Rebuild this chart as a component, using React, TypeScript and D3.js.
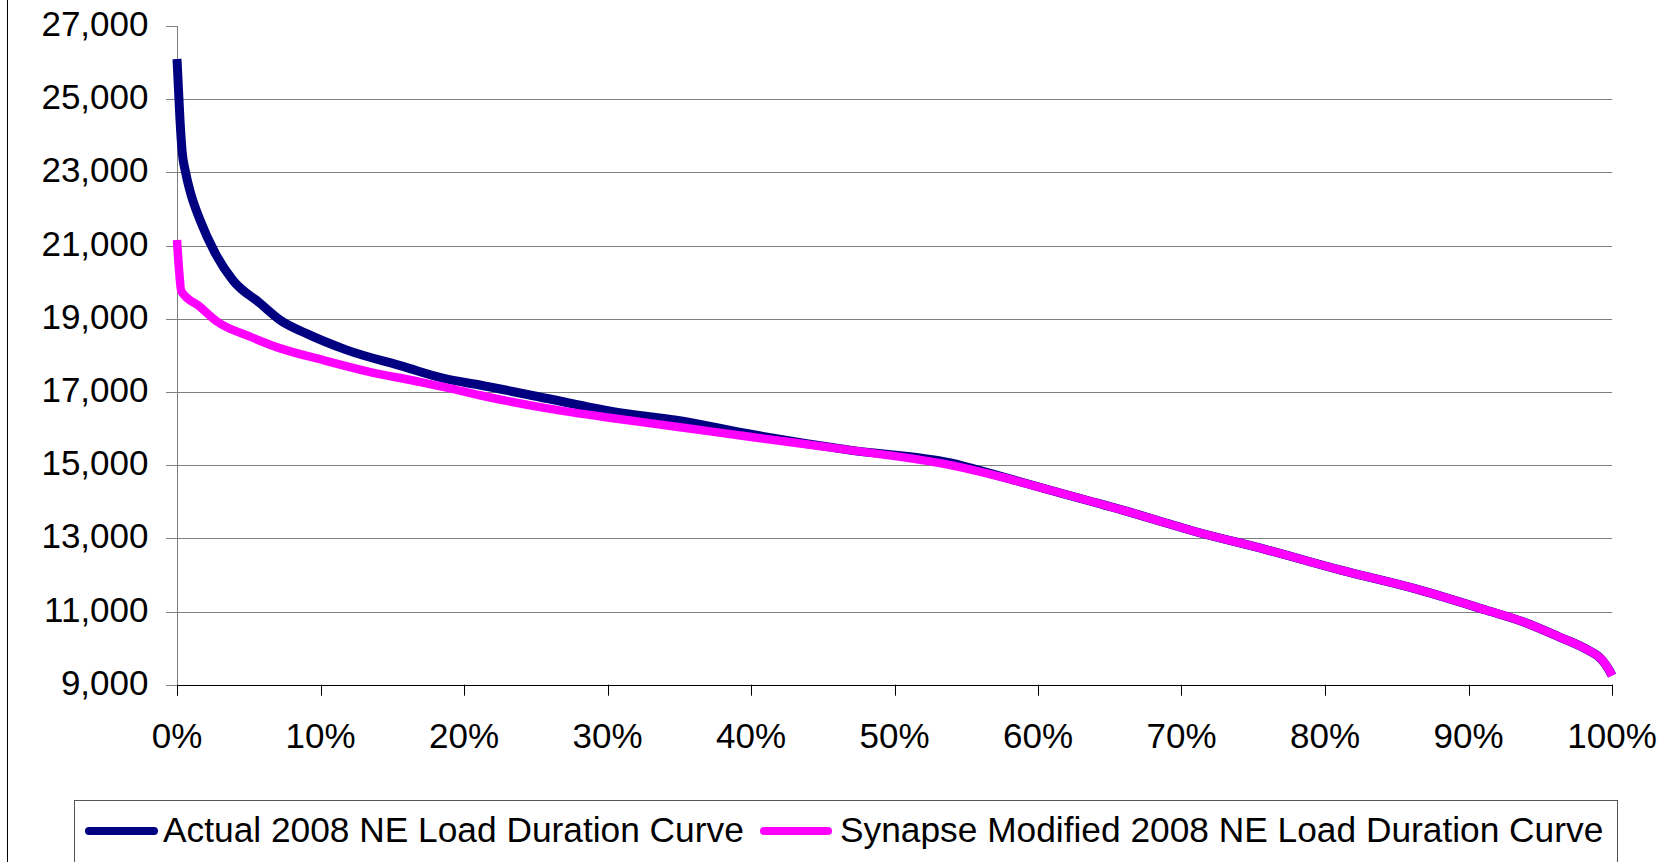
import React from 'react';
import * as d3 from 'd3';

// share of hours (%) and load (MW)
const actualPct = [0, 0.1, 0.2, 0.35, 0.6, 0.9, 1.6, 2.65, 3.9, 5.8, 7.2, 9.0, 11.8, 15.8, 18.6, 21.1, 25.8, 30.4, 34.8, 39.9, 46.9, 53.9, 56.8, 60.8, 65.9, 71.0, 76.0, 81.1, 86.2, 91.2, 93.8, 96.3, 98.3, 99.3, 99.8, 100];
const actualLoad = [26100, 25300, 24500, 23600, 23000, 22500, 21700, 20800, 20050, 19420, 18960, 18600, 18150, 17690, 17370, 17190, 16820, 16460, 16230, 15850, 15410, 15060, 14760, 14320, 13770, 13180, 12680, 12130, 11630, 11040, 10720, 10310, 9950, 9680, 9400, 9250];

const synapsePct = [0, 0.15, 0.3, 1.6, 2.8, 5.1, 7.2, 10.2, 13.4, 16.6, 18.8, 21.1, 25.8, 30.4, 34.8, 39.9, 46.9, 53.9, 57.4, 60.8, 65.9, 71.0, 76.0, 81.1, 86.2, 91.2, 93.8, 96.3, 98.3, 99.3, 99.8, 100];
const synapseLoad = [21150, 20300, 19750, 19330, 18920, 18510, 18190, 17870, 17550, 17300, 17120, 16910, 16550, 16280, 16050, 15775, 15410, 15000, 14680, 14320, 13770, 13180, 12680, 12130, 11630, 11040, 10720, 10310, 9950, 9680, 9400, 9250];

const yTicks = [9000, 11000, 13000, 15000, 17000, 19000, 21000, 23000, 25000, 27000];
const xTicks = [0, 10, 20, 30, 40, 50, 60, 70, 80, 90, 100];

const seriesNames = ['Actual 2008 NE Load Duration Curve', 'Synapse Modified 2008 NE Load Duration Curve'];
const seriesColors = ['#000080', '#FF00FF'];

const W = 1678;
const H = 862;
const FONT = '"Liberation Sans", Arial, sans-serif';

const App = () => {
  const x = d3.scaleLinear().domain([0, 100]).range([177, 1612]);
  const y = d3.scaleLinear().domain([9000, 27000]).range([684.7, 26]);

  const line = d3.line<[number, number]>()
    .x(d => x(d[0]))
    .y(d => y(d[1]))
    .curve(d3.curveMonotoneX);

  const actual = actualPct.map((p, i) => [p, actualLoad[i]] as [number, number]);
  const synapse = synapsePct.map((p, i) => [p, synapseLoad[i]] as [number, number]);

  const x0 = x(0);
  const x1 = x(100);
  const yBase = y(9000);

  return (
    <svg width={W} height={H} style={{ position: 'absolute', left: 0, top: 0, background: '#fff' }} fontFamily={FONT}>
      {/* outer frame edge */}
      <line x1={7.5} x2={7.5} y1={0} y2={H} stroke="#000" strokeWidth={1} />

      {/* gridlines */}
      {yTicks.filter(t => t !== 9000 && t !== 27000).map(t => (
        <line key={'g' + t} x1={x0} x2={x1} y1={Math.round(y(t)) + 0.5} y2={Math.round(y(t)) + 0.5} stroke="#808080" strokeWidth={1} />
      ))}

      {/* y axis */}
      <line x1={x0 + 0.5} x2={x0 + 0.5} y1={y(27000)} y2={yBase + 11} stroke="#808080" strokeWidth={1} />
      {yTicks.map(t => (
        <g key={'y' + t}>
          <line x1={166} x2={x0} y1={Math.round(y(t)) + 0.5} y2={Math.round(y(t)) + 0.5} stroke="#808080" strokeWidth={1} />
          <text x={148.5} y={y(t) + 10} textAnchor="end" fontSize={35} fill="#000">{d3.format(',')(t)}</text>
        </g>
      ))}

      {/* x axis */}
      <line x1={x0} x2={x1} y1={Math.round(yBase) + 0.5} y2={Math.round(yBase) + 0.5} stroke="#000" strokeWidth={1} />
      {xTicks.map(t => (
        <g key={'x' + t}>
          <line x1={Math.round(x(t)) + 0.5} x2={Math.round(x(t)) + 0.5} y1={yBase} y2={yBase + 11} stroke="#000" strokeWidth={1} />
          <text x={x(t)} y={748} textAnchor="middle" fontSize={35} fill="#000">{t + '%'}</text>
        </g>
      ))}

      {/* series */}
      <path d={line(actual) || ''} fill="none" stroke={seriesColors[0]} strokeWidth={9} strokeLinejoin="round" />
      <path d={line(synapse) || ''} fill="none" stroke={seriesColors[1]} strokeWidth={8.5} strokeLinejoin="round" />

      {/* legend */}
      <rect x={74.5} y={800.5} width={1543} height={80} fill="#fff" stroke="#555" strokeWidth={1} />
      <line x1={89} x2={154} y1={831} y2={831} stroke={seriesColors[0]} strokeWidth={8} strokeLinecap="round" />
      <text x={163} y={842} fontSize={35.3} fill="#000">{seriesNames[0]}</text>
      <line x1={764} x2={828} y1={831} y2={831} stroke={seriesColors[1]} strokeWidth={8} strokeLinecap="round" />
      <text x={840} y={842} fontSize={35.3} fill="#000">{seriesNames[1]}</text>
    </svg>
  );
};

export default App;
